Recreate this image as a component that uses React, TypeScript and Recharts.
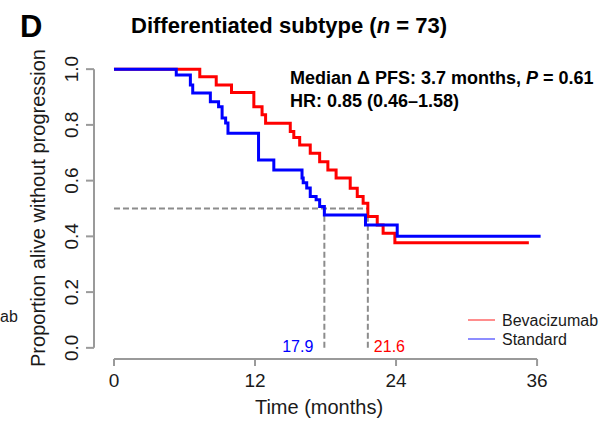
import React from "react";
import { LineChart, Line, XAxis, YAxis, ReferenceLine } from "recharts";

// Kaplan-Meier steps (months, proportion without progression)
const bevTime = [0, 7.3, 8.7, 10.0, 11.9, 12.6, 12.9, 15.0, 15.3, 15.8, 16.7, 17.5, 18.2, 18.9, 20.1, 20.7, 21.2, 21.6, 22.4, 22.9, 23.9, 35.3];
const bevSurv = [1.0, 0.973, 0.943, 0.916, 0.865, 0.836, 0.806, 0.776, 0.755, 0.728, 0.698, 0.668, 0.638, 0.609, 0.573, 0.543, 0.519, 0.471, 0.441, 0.411, 0.377, 0.377];
const stdTime = [0, 5.3, 6.5, 6.7, 8.2, 8.9, 9.2, 9.5, 9.7, 12.3, 13.6, 16.0, 16.1, 16.4, 16.7, 17.2, 17.5, 17.9, 21.4, 24.1, 36.3];
const stdSurv = [1.0, 0.979, 0.943, 0.914, 0.883, 0.865, 0.825, 0.807, 0.77, 0.674, 0.638, 0.609, 0.592, 0.574, 0.543, 0.531, 0.507, 0.477, 0.441, 0.4, 0.4];

const seriesNames = ["Bevacizumab", "Standard"];
const seriesColors = ["#ff0000", "#0000ff"];
const xTicks = [0, 12, 24, 36];
const yTicks = [0, 0.2, 0.4, 0.6, 0.8, 1.0];
const medianStd = 17.9;
const medianBev = 21.6;

const bevData = bevTime.map((t, i) => ({ t, s: bevSurv[i] }));
const stdData = stdTime.map((t, i) => ({ t, s: stdSurv[i] }));

const FONT = "'Liberation Sans', Arial, Helvetica, sans-serif";
const AXIS_GRAY = "#9a9a9a";
const DASH_GRAY = "#8c8c8c";

const YTick = (props: any) => {
  const { x, y, payload } = props;
  const bx = x - 6;
  return (
    <text
      x={bx}
      y={y}
      transform={`rotate(-90 ${bx} ${y})`}
      textAnchor="middle"
      fontSize={19}
      fontFamily={FONT}
      fill="#1a1a1a"
    >
      {Number(payload.value).toFixed(1)}
    </text>
  );
};

const medianLabel = (text: string, color: string, side: "left" | "right") => (props: any) => {
  const vb = props.viewBox || {};
  const bottom = (vb.y || 0) + (vb.height || 0);
  const x = side === "left" ? vb.x - 11 : vb.x + 6;
  return (
    <text
      x={x}
      y={bottom + 4}
      textAnchor={side === "left" ? "end" : "start"}
      fontSize={16}
      fontFamily={FONT}
      fill={color}
    >
      {text}
    </text>
  );
};

export default function App() {
  return (
    <div style={{ position: "absolute", left: 0, top: 0, width: 607, height: 422, background: "#fff" }}>
      <LineChart width={607} height={422} margin={{ top: 58, right: 53, left: 0, bottom: 0 }}>
        <XAxis
          dataKey="t"
          type="number"
          domain={[-1.7, 37.44]}
          ticks={xTicks}
          interval={0}
          allowDataOverflow
          axisLine={false}
          tickLine={{ stroke: AXIS_GRAY, strokeWidth: 2 }}
          tickSize={7}
          tickMargin={8}
          height={63}
          tick={{ fill: "#1a1a1a", fontSize: 19, fontFamily: FONT }}
        />
        <YAxis
          type="number"
          domain={[-0.04, 1.04]}
          ticks={yTicks}
          interval={0}
          allowDataOverflow
          axisLine={false}
          tickLine={{ stroke: AXIS_GRAY, strokeWidth: 2 }}
          tickSize={8}
          width={94}
          tick={<YTick />}
        />
        <ReferenceLine segment={[{ x: 0, y: -0.04 }, { x: 36, y: -0.04 }]} stroke={AXIS_GRAY} strokeWidth={2} />
        <ReferenceLine segment={[{ x: -1.7, y: 0 }, { x: -1.7, y: 1 }]} stroke={AXIS_GRAY} strokeWidth={2} />
        <ReferenceLine
          segment={[{ x: 0, y: 0.5 }, { x: medianBev, y: 0.5 }]}
          stroke={DASH_GRAY}
          strokeWidth={2}
          strokeDasharray="6 3"
        />
        <ReferenceLine
          segment={[{ x: medianStd, y: 0 }, { x: medianStd, y: 0.5 }]}
          stroke={DASH_GRAY}
          strokeWidth={2}
          strokeDasharray="6 3"
          label={medianLabel(medianStd.toFixed(1), seriesColors[1], "left")}
        />
        <ReferenceLine
          segment={[{ x: medianBev, y: 0 }, { x: medianBev, y: 0.5 }]}
          stroke={DASH_GRAY}
          strokeWidth={2}
          strokeDasharray="6 3"
          label={medianLabel(medianBev.toFixed(1), seriesColors[0], "right")}
        />
        <Line
          data={bevData}
          dataKey="s"
          name={seriesNames[0]}
          type="stepAfter"
          stroke={seriesColors[0]}
          strokeWidth={3}
          dot={false}
          activeDot={false}
          isAnimationActive={false}
        />
        <Line
          data={stdData}
          dataKey="s"
          name={seriesNames[1]}
          type="stepAfter"
          stroke={seriesColors[1]}
          strokeWidth={3}
          dot={false}
          activeDot={false}
          isAnimationActive={false}
        />
      </LineChart>
      <svg
        width={607}
        height={422}
        style={{ position: "absolute", left: 0, top: 0, pointerEvents: "none" }}
        fontFamily={FONT}
      >
        <text x={20} y={37} fontSize={31} fontWeight="bold" fill="#000">D</text>
        <text x={131} y={33} fontSize={22} fontWeight="bold" fill="#000">
          Differentiated subtype (<tspan fontStyle="italic">n</tspan> = 73)
        </text>
        <text x={290} y={84} fontSize={18} fontWeight="bold" fill="#000">
          Median Δ PFS: 3.7 months, <tspan fontStyle="italic">P</tspan> = 0.61
        </text>
        <text x={290} y={107} fontSize={18} fontWeight="bold" fill="#000">
          HR: 0.85 (0.46–1.58)
        </text>
        <text x={45} y={208} fontSize={20} fill="#1a1a1a" textAnchor="middle" transform="rotate(-90 45 208)">
          Proportion alive without progression
        </text>
        <text x={319} y={414} fontSize={20} fill="#1a1a1a" textAnchor="middle">
          Time (months)
        </text>
        <text x={0} y={322} fontSize={16} fill="#1a1a1a">ab</text>
        {seriesNames.map((name, i) => (
          <g key={name}>
            <line
              x1={468}
              x2={495}
              y1={320 + i * 19}
              y2={320 + i * 19}
              stroke={seriesColors[i]}
              strokeOpacity={0.6}
              strokeWidth={1.5}
            />
            <text x={502} y={326 + i * 18.5} fontSize={16} fill="#1a1a1a">
              {name}
            </text>
          </g>
        ))}
      </svg>
    </div>
  );
}
